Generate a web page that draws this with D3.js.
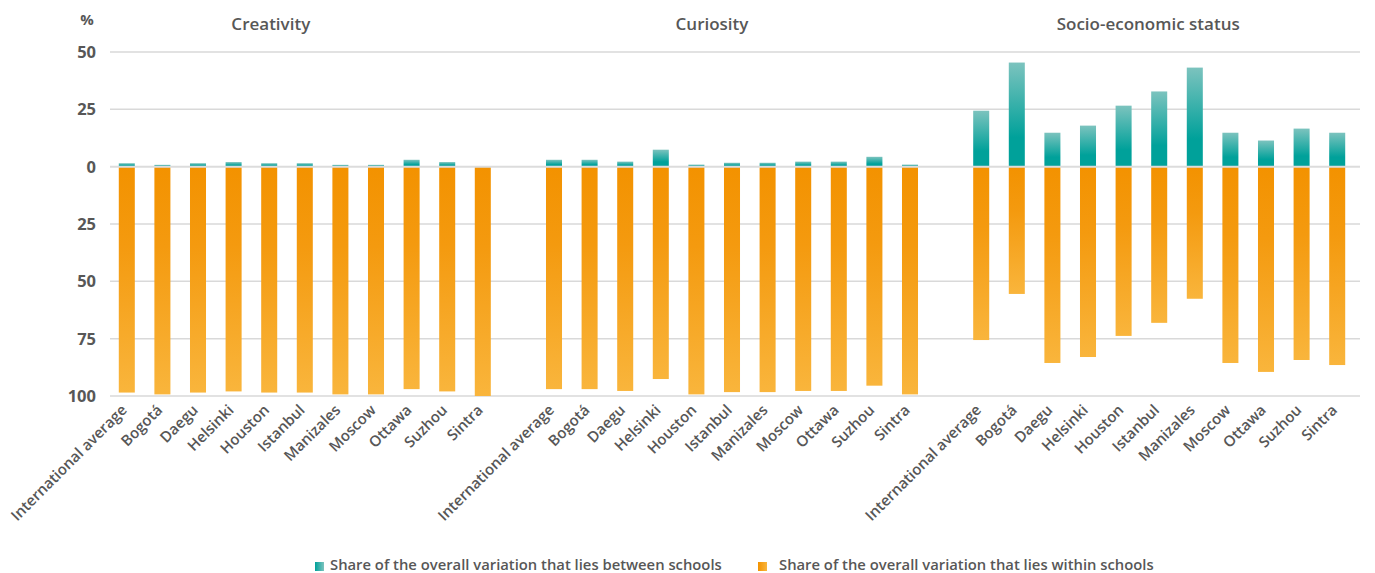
<!DOCTYPE html>
<html>
<head>
<meta charset="utf-8">
<script src="https://cdn.jsdelivr.net/npm/d3@7"></script>
<style>
  body { margin: 0; background: #fff; }
  svg text { font-family: "Open Sans", "Noto Sans", sans-serif; fill: #575757; }
</style>
</head>
<body>
<svg class="chart"></svg>
<script>
// Chart data: three panels, same list of cities in each.
var panels = ["Creativity", "Curiosity", "Socio-economic status"];
var cities = ["International average", "Bogotá", "Daegu", "Helsinki", "Houston", "Istanbul",
              "Manizales", "Moscow", "Ottawa", "Suzhou", "Sintra"];

var creativityBetween = [1.5, 0.8, 1.5, 2.0, 1.5, 1.5, 0.8, 0.8, 3.0, 2.0, 0.2];
var creativityWithin  = [98.5, 99.3, 98.5, 98.0, 98.5, 98.5, 99.3, 99.3, 97.0, 98.0, 100];
var curiosityBetween  = [3.0, 3.0, 2.2, 7.4, 0.9, 1.7, 1.7, 2.2, 2.2, 4.3, 0.9];
var curiosityWithin   = [97.0, 97.0, 97.8, 92.6, 99.3, 98.3, 98.3, 97.8, 97.8, 95.5, 99.3];
var sesBetween        = [24.4, 45.4, 14.8, 17.9, 26.6, 32.8, 43.2, 14.8, 11.4, 16.6, 14.8];
var sesWithin         = [75.6, 55.5, 85.6, 83.0, 73.8, 68.1, 57.6, 85.6, 89.5, 84.3, 86.5];

var yTicks = [50, 25, 0, -25, -50, -75, -100];
var legendLabels = ["Share of the overall variation that lies between schools",
                    "Share of the overall variation that lies within schools"];

var between = [creativityBetween, curiosityBetween, sesBetween];
var within = [creativityWithin, curiosityWithin, sesWithin];

window.onload = function () {
    var width = 1375, height = 573;

    var svg = d3.select("svg.chart")
        .attr("width", width)
        .attr("height", height);

    // slot keys, with an empty slot between panels
    var slots = [];
    panels.forEach(function (p, pi) {
        cities.forEach(function (c) { slots.push(p + "|" + c); });
        if (pi < panels.length - 1) slots.push("gap" + pi);
    });

    var x = d3.scaleBand()
        .domain(slots)
        .range([109, 1355])
        .paddingInner(0.55)
        .paddingOuter(0.275);

    var y = d3.scaleLinear()
        .domain([50, -100])
        .range([52, 396]);

    var defs = svg.append("defs");
    var tealGrad = defs.append("linearGradient").attr("id", "teal")
        .attr("x1", 0).attr("y1", 0).attr("x2", 0).attr("y2", 1);
    tealGrad.append("stop").attr("offset", "0%").attr("stop-color", "#7cc3be");
    tealGrad.append("stop").attr("offset", "72%").attr("stop-color", "#00a19a");
    tealGrad.append("stop").attr("offset", "100%").attr("stop-color", "#00a19a");

    var orangeGrad = defs.append("linearGradient").attr("id", "orange")
        .attr("x1", 0).attr("y1", 0).attr("x2", 0).attr("y2", 1);
    orangeGrad.append("stop").attr("offset", "0%").attr("stop-color", "#f39200");
    orangeGrad.append("stop").attr("offset", "35%").attr("stop-color", "#f49a0f");
    orangeGrad.append("stop").attr("offset", "100%").attr("stop-color", "#f9b53c");

    var tealH = defs.append("linearGradient").attr("id", "tealH");
    tealH.append("stop").attr("offset", "0%").attr("stop-color", "#00a19a");
    tealH.append("stop").attr("offset", "100%").attr("stop-color", "#7cc3be");
    var orangeH = defs.append("linearGradient").attr("id", "orangeH");
    orangeH.append("stop").attr("offset", "0%").attr("stop-color", "#f39200");
    orangeH.append("stop").attr("offset", "100%").attr("stop-color", "#f9b53c");

    // gridlines
    svg.append("g").selectAll("line")
        .data(yTicks.filter(function (t) { return t !== 0; }))
        .enter().append("line")
        .attr("x1", 110).attr("x2", 1360)
        .attr("y1", function (d) { return y(d); })
        .attr("y2", function (d) { return y(d); })
        .attr("stroke", "#d9d9d9")
        .attr("stroke-width", 1.5);

    // y tick labels
    svg.append("g").selectAll("text")
        .data(yTicks)
        .enter().append("text")
        .attr("x", 96)
        .attr("y", function (d) { return y(d) + 6; })
        .attr("text-anchor", "end")
        .style("font-size", "16.5px")
        .style("font-weight", 700)
        .text(function (d) { return Math.abs(d); });

    svg.append("text")
        .attr("x", 87).attr("y", 25)
        .attr("text-anchor", "middle")
        .style("font-size", "15px")
        .style("font-weight", 700)
        .text("%");

    // bars
    var rows = [];
    panels.forEach(function (p, pi) {
        cities.forEach(function (c, ci) {
            rows.push({ key: p + "|" + c, city: c, b: between[pi][ci], w: within[pi][ci] });
        });
    });

    var bars = svg.append("g").selectAll("g")
        .data(rows)
        .enter().append("g");

    bars.append("rect")
        .attr("x", function (d) { return x(d.key); })
        .attr("width", x.bandwidth())
        .attr("y", function (d) { return y(d.b); })
        .attr("height", function (d) { return y(0) - y(d.b); })
        .attr("fill", "url(#teal)");

    bars.append("rect")
        .attr("x", function (d) { return x(d.key); })
        .attr("width", x.bandwidth())
        .attr("y", y(0))
        .attr("height", function (d) { return y(-d.w) - y(0); })
        .attr("fill", "url(#orange)");

    // zero line on top of the bars
    svg.append("line")
        .attr("x1", 110).attr("x2", 1360)
        .attr("y1", y(0)).attr("y2", y(0))
        .attr("stroke", "#dcdcdc")
        .attr("stroke-width", 2);

    // category labels
    svg.append("g").selectAll("text")
        .data(rows)
        .enter().append("text")
        .attr("transform", function (d) {
            var cx = x(d.key) + x.bandwidth() / 2 + 1;
            return "translate(" + cx + ",411) rotate(-45)";
        })
        .attr("text-anchor", "end")
        .style("font-size", "15px")
        .style("font-weight", 600)
        .text(function (d) { return d.city; });

    // panel titles (shifted left a little, as in the original)
    var titleShift = [-34, -20, -11];
    svg.append("g").selectAll("text")
        .data(panels)
        .enter().append("text")
        .attr("x", function (p, i) {
            var a = x(p + "|" + cities[0]);
            var b = x(p + "|" + cities[cities.length - 1]) + x.bandwidth();
            return (a + b) / 2 + titleShift[i];
        })
        .attr("y", 30)
        .attr("text-anchor", "middle")
        .style("font-size", "17px")
        .style("font-weight", 600)
        .text(function (p) { return p; });

    // legend
    var legend = svg.append("g");
    var squareX = [315, 758];
    var textX = [330, 779];
    var legendFill = ["url(#tealH)", "url(#orangeH)"];
    legendLabels.forEach(function (label, i) {
        legend.append("rect")
            .attr("x", squareX[i]).attr("y", 562)
            .attr("width", 9).attr("height", 9)
            .attr("fill", legendFill[i]);
        legend.append("text")
            .attr("x", textX[i]).attr("y", 570)
            .style("font-size", "14.8px")
            .style("font-weight", 600)
            .text(label);
    });
};
</script>
</body>
</html>
